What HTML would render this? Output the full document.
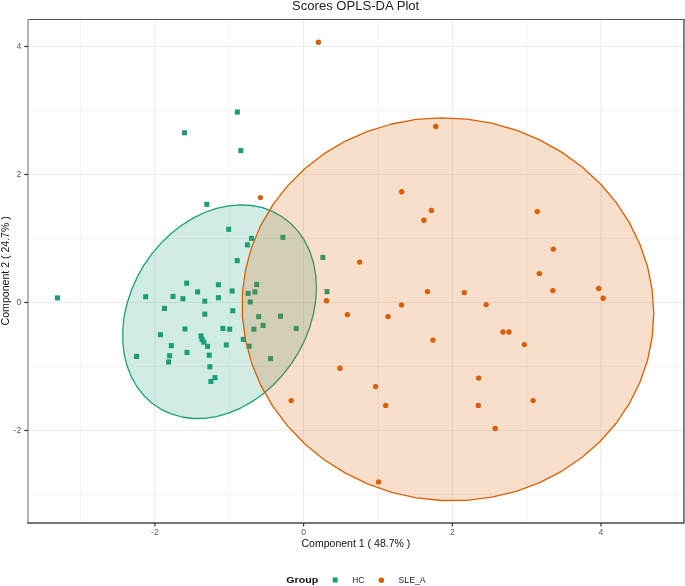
<!DOCTYPE html>
<html><head><meta charset="utf-8"><title>Scores OPLS-DA Plot</title>
<style>
html,body{margin:0;padding:0;background:#fff;}
body{width:685px;height:586px;overflow:hidden;}
svg{display:block;filter:blur(0.45px);}
text{font-family:"Liberation Sans",sans-serif;}
</style></head><body>
<svg width="685" height="586" viewBox="0 0 685 586">
<rect width="685" height="586" fill="#fff"/>
<defs><clipPath id="cp"><rect x="28.0" y="19.5" width="656.0" height="503.5"/></clipPath></defs>
<g clip-path="url(#cp)">
<line x1="80.6" x2="80.6" y1="19.5" y2="523.0" stroke="#ebebeb" stroke-width="0.55"/>
<line x1="154.9" x2="154.9" y1="19.5" y2="523.0" stroke="#ebebeb" stroke-width="1.05"/>
<line x1="229.3" x2="229.3" y1="19.5" y2="523.0" stroke="#ebebeb" stroke-width="0.55"/>
<line x1="303.6" x2="303.6" y1="19.5" y2="523.0" stroke="#ebebeb" stroke-width="1.05"/>
<line x1="378.0" x2="378.0" y1="19.5" y2="523.0" stroke="#ebebeb" stroke-width="0.55"/>
<line x1="452.3" x2="452.3" y1="19.5" y2="523.0" stroke="#ebebeb" stroke-width="1.05"/>
<line x1="526.7" x2="526.7" y1="19.5" y2="523.0" stroke="#ebebeb" stroke-width="0.55"/>
<line x1="601.0" x2="601.0" y1="19.5" y2="523.0" stroke="#ebebeb" stroke-width="1.05"/>
<line x1="675.4" x2="675.4" y1="19.5" y2="523.0" stroke="#ebebeb" stroke-width="0.55"/>
<line y1="494.5" y2="494.5" x1="28.0" x2="684.0" stroke="#ebebeb" stroke-width="0.55"/>
<line y1="430.5" y2="430.5" x1="28.0" x2="684.0" stroke="#ebebeb" stroke-width="1.05"/>
<line y1="366.5" y2="366.5" x1="28.0" x2="684.0" stroke="#ebebeb" stroke-width="0.55"/>
<line y1="302.5" y2="302.5" x1="28.0" x2="684.0" stroke="#ebebeb" stroke-width="1.05"/>
<line y1="238.5" y2="238.5" x1="28.0" x2="684.0" stroke="#ebebeb" stroke-width="0.55"/>
<line y1="174.5" y2="174.5" x1="28.0" x2="684.0" stroke="#ebebeb" stroke-width="1.05"/>
<line y1="110.5" y2="110.5" x1="28.0" x2="684.0" stroke="#ebebeb" stroke-width="0.55"/>
<line y1="46.5" y2="46.5" x1="28.0" x2="684.0" stroke="#ebebeb" stroke-width="1.05"/>
<rect x="55.0" y="295.4" width="5" height="5.1" fill="#1B9E77"/>
<rect x="182.0" y="130.2" width="5" height="5.1" fill="#1B9E77"/>
<rect x="234.9" y="109.5" width="5" height="5.1" fill="#1B9E77"/>
<rect x="238.3" y="148.1" width="5" height="5.1" fill="#1B9E77"/>
<rect x="204.3" y="201.8" width="5" height="5.1" fill="#1B9E77"/>
<rect x="226.2" y="226.7" width="5" height="5.1" fill="#1B9E77"/>
<rect x="249.0" y="235.8" width="5" height="5.1" fill="#1B9E77"/>
<rect x="244.9" y="242.3" width="5" height="5.1" fill="#1B9E77"/>
<rect x="280.4" y="234.8" width="5" height="5.1" fill="#1B9E77"/>
<rect x="234.7" y="258.1" width="5" height="5.1" fill="#1B9E77"/>
<rect x="320.4" y="254.9" width="5" height="5.1" fill="#1B9E77"/>
<rect x="184.2" y="280.6" width="5" height="5.1" fill="#1B9E77"/>
<rect x="215.9" y="282.2" width="5" height="5.1" fill="#1B9E77"/>
<rect x="254.2" y="281.9" width="5" height="5.1" fill="#1B9E77"/>
<rect x="195.1" y="289.4" width="5" height="5.1" fill="#1B9E77"/>
<rect x="229.6" y="288.4" width="5" height="5.1" fill="#1B9E77"/>
<rect x="245.6" y="290.9" width="5" height="5.1" fill="#1B9E77"/>
<rect x="252.4" y="289.4" width="5" height="5.1" fill="#1B9E77"/>
<rect x="324.5" y="289.1" width="5" height="5.1" fill="#1B9E77"/>
<rect x="143.2" y="294.2" width="5" height="5.1" fill="#1B9E77"/>
<rect x="170.5" y="293.9" width="5" height="5.1" fill="#1B9E77"/>
<rect x="180.4" y="296.2" width="5" height="5.1" fill="#1B9E77"/>
<rect x="215.9" y="295.2" width="5" height="5.1" fill="#1B9E77"/>
<rect x="202.3" y="298.6" width="5" height="5.1" fill="#1B9E77"/>
<rect x="247.7" y="299.4" width="5" height="5.1" fill="#1B9E77"/>
<rect x="162.0" y="305.9" width="5" height="5.1" fill="#1B9E77"/>
<rect x="202.3" y="311.6" width="5" height="5.1" fill="#1B9E77"/>
<rect x="230.3" y="308.2" width="5" height="5.1" fill="#1B9E77"/>
<rect x="256.2" y="314.1" width="5" height="5.1" fill="#1B9E77"/>
<rect x="278.0" y="313.6" width="5" height="5.1" fill="#1B9E77"/>
<rect x="182.5" y="326.4" width="5" height="5.1" fill="#1B9E77"/>
<rect x="220.4" y="325.9" width="5" height="5.1" fill="#1B9E77"/>
<rect x="227.2" y="326.6" width="5" height="5.1" fill="#1B9E77"/>
<rect x="251.4" y="326.6" width="5" height="5.1" fill="#1B9E77"/>
<rect x="260.6" y="322.9" width="5" height="5.1" fill="#1B9E77"/>
<rect x="293.7" y="325.9" width="5" height="5.1" fill="#1B9E77"/>
<rect x="157.9" y="332.1" width="5" height="5.1" fill="#1B9E77"/>
<rect x="198.5" y="333.4" width="5" height="5.1" fill="#1B9E77"/>
<rect x="199.5" y="336.9" width="5" height="5.1" fill="#1B9E77"/>
<rect x="201.3" y="339.6" width="5" height="5.1" fill="#1B9E77"/>
<rect x="240.8" y="336.9" width="5" height="5.1" fill="#1B9E77"/>
<rect x="168.8" y="343.1" width="5" height="5.1" fill="#1B9E77"/>
<rect x="205.0" y="343.8" width="5" height="5.1" fill="#1B9E77"/>
<rect x="223.8" y="342.4" width="5" height="5.1" fill="#1B9E77"/>
<rect x="246.6" y="343.8" width="5" height="5.1" fill="#1B9E77"/>
<rect x="184.5" y="349.9" width="5" height="5.1" fill="#1B9E77"/>
<rect x="206.7" y="352.6" width="5" height="5.1" fill="#1B9E77"/>
<rect x="134.0" y="353.9" width="5" height="5.1" fill="#1B9E77"/>
<rect x="167.1" y="353.2" width="5" height="5.1" fill="#1B9E77"/>
<rect x="166.1" y="359.4" width="5" height="5.1" fill="#1B9E77"/>
<rect x="268.1" y="356.1" width="5" height="5.1" fill="#1B9E77"/>
<rect x="207.4" y="364.2" width="5" height="5.1" fill="#1B9E77"/>
<rect x="212.5" y="375.1" width="5" height="5.1" fill="#1B9E77"/>
<rect x="208.4" y="378.9" width="5" height="5.1" fill="#1B9E77"/>
<circle cx="318.4" cy="42.2" r="2.7" fill="#D95F02"/>
<circle cx="260.4" cy="197.6" r="2.7" fill="#D95F02"/>
<circle cx="435.8" cy="126.5" r="2.7" fill="#D95F02"/>
<circle cx="401.7" cy="191.8" r="2.7" fill="#D95F02"/>
<circle cx="431.4" cy="210.4" r="2.7" fill="#D95F02"/>
<circle cx="423.9" cy="220.3" r="2.7" fill="#D95F02"/>
<circle cx="359.7" cy="262.1" r="2.7" fill="#D95F02"/>
<circle cx="427.5" cy="291.6" r="2.7" fill="#D95F02"/>
<circle cx="326.5" cy="300.8" r="2.7" fill="#D95F02"/>
<circle cx="537.3" cy="211.6" r="2.7" fill="#D95F02"/>
<circle cx="553.3" cy="249.1" r="2.7" fill="#D95F02"/>
<circle cx="539.3" cy="273.6" r="2.7" fill="#D95F02"/>
<circle cx="464.3" cy="292.6" r="2.7" fill="#D95F02"/>
<circle cx="552.8" cy="290.6" r="2.7" fill="#D95F02"/>
<circle cx="598.7" cy="288.4" r="2.7" fill="#D95F02"/>
<circle cx="603.2" cy="298.2" r="2.7" fill="#D95F02"/>
<circle cx="486.2" cy="304.6" r="2.7" fill="#D95F02"/>
<circle cx="503.0" cy="331.9" r="2.7" fill="#D95F02"/>
<circle cx="509.0" cy="331.9" r="2.7" fill="#D95F02"/>
<circle cx="524.4" cy="344.6" r="2.7" fill="#D95F02"/>
<circle cx="478.6" cy="378.1" r="2.7" fill="#D95F02"/>
<circle cx="478.3" cy="405.4" r="2.7" fill="#D95F02"/>
<circle cx="533.1" cy="400.6" r="2.7" fill="#D95F02"/>
<circle cx="495.2" cy="428.4" r="2.7" fill="#D95F02"/>
<circle cx="347.4" cy="314.6" r="2.7" fill="#D95F02"/>
<circle cx="388.0" cy="316.6" r="2.7" fill="#D95F02"/>
<circle cx="401.5" cy="304.9" r="2.7" fill="#D95F02"/>
<circle cx="433.0" cy="340.1" r="2.7" fill="#D95F02"/>
<circle cx="339.9" cy="368.2" r="2.7" fill="#D95F02"/>
<circle cx="375.6" cy="386.6" r="2.7" fill="#D95F02"/>
<circle cx="385.7" cy="405.4" r="2.7" fill="#D95F02"/>
<circle cx="291.2" cy="400.6" r="2.7" fill="#D95F02"/>
<circle cx="378.6" cy="481.9" r="2.7" fill="#D95F02"/>
<polygon points="316.4,287.7 315.7,275.0 313.5,263.0 309.9,251.6 304.9,241.2 298.6,231.9 291.1,223.8 282.5,217.0 273.0,211.6 262.7,207.7 251.7,205.5 240.2,204.8 228.4,205.8 216.5,208.3 204.6,212.5 193.0,218.1 181.7,225.2 171.0,233.5 161.1,243.1 152.0,253.7 144.0,265.1 137.1,277.3 131.5,290.0 127.2,303.0 124.2,316.2 122.8,329.3 122.8,342.1 124.2,354.5 127.2,366.2 131.5,377.1 137.1,387.0 144.0,395.7 152.0,403.2 161.1,409.3 171.1,413.9 181.7,417.0 193.0,418.5 204.6,418.3 216.5,416.6 228.4,413.2 240.2,408.3 251.7,401.9 262.7,394.2 273.0,385.2 282.5,375.2 291.1,364.1 298.6,352.3 304.9,339.8 309.9,326.9 313.5,313.8 315.7,300.6" fill="#1B9E77" fill-opacity="0.2" stroke="#1B9E77" stroke-width="1.3" stroke-linejoin="round"/>
<polygon points="653.8,313.6 652.2,290.1 647.6,266.8 639.9,244.2 629.3,222.6 616.0,202.2 600.1,183.5 581.9,166.7 561.6,152.1 539.7,139.9 516.3,130.2 491.9,123.2 466.9,119.1 441.6,117.8 416.3,119.4 391.6,124.0 367.6,131.3 344.9,141.3 323.8,153.9 304.6,168.8 287.5,185.9 272.8,204.8 260.8,225.3 251.7,247.1 245.5,269.9 242.4,293.2 242.4,316.7 245.5,340.2 251.7,363.2 260.8,385.4 272.8,406.4 287.5,425.9 304.6,443.7 323.8,459.5 345.0,472.9 367.6,483.9 391.6,492.3 416.3,497.8 441.6,500.5 466.9,500.3 491.9,497.2 516.3,491.3 539.7,482.6 561.6,471.3 581.9,457.5 600.1,441.5 616.0,423.5 629.3,403.7 639.9,382.5 647.6,360.2 652.2,337.1" fill="#D95F02" fill-opacity="0.2" stroke="#D95F02" stroke-width="1.3" stroke-linejoin="round"/>
</g>
<line x1="28.0" x2="685.0" y1="19.5" y2="19.5" stroke="#555" stroke-width="1.1"/>
<rect x="27" y="19.0" width="2" height="504.7" fill="#b2b2b2"/>
<rect x="683.1" y="19.5" width="0.9" height="504.1" fill="#6a6a6a"/><rect x="684" y="19.5" width="1.5" height="504.1" fill="#8c8c8c"/>
<line x1="27.4" x2="683.9" y1="523.05" y2="523.05" stroke="#484848" stroke-width="1.5"/>
<line x1="154.9" x2="154.9" y1="523.0" y2="526.5" stroke="#333" stroke-width="1.2"/>
<text x="154.9" y="535.1" font-size="8.6" fill="#5a5a5a" text-anchor="middle">-2</text>
<line y1="430.5" y2="430.5" x1="24.2" x2="28.0" stroke="#333" stroke-width="1.2"/>
<text x="21.2" y="433.1" font-size="8.6" fill="#5a5a5a" text-anchor="end">-2</text>
<line x1="303.6" x2="303.6" y1="523.0" y2="526.5" stroke="#333" stroke-width="1.2"/>
<text x="303.6" y="535.1" font-size="8.6" fill="#5a5a5a" text-anchor="middle">0</text>
<line y1="302.5" y2="302.5" x1="24.2" x2="28.0" stroke="#333" stroke-width="1.2"/>
<text x="21.2" y="305.1" font-size="8.6" fill="#5a5a5a" text-anchor="end">0</text>
<line x1="452.3" x2="452.3" y1="523.0" y2="526.5" stroke="#333" stroke-width="1.2"/>
<text x="452.3" y="535.1" font-size="8.6" fill="#5a5a5a" text-anchor="middle">2</text>
<line y1="174.5" y2="174.5" x1="24.2" x2="28.0" stroke="#333" stroke-width="1.2"/>
<text x="21.2" y="177.1" font-size="8.6" fill="#5a5a5a" text-anchor="end">2</text>
<line x1="601.0" x2="601.0" y1="523.0" y2="526.5" stroke="#333" stroke-width="1.2"/>
<text x="601.0" y="535.1" font-size="8.6" fill="#5a5a5a" text-anchor="middle">4</text>
<line y1="46.5" y2="46.5" x1="24.2" x2="28.0" stroke="#333" stroke-width="1.2"/>
<text x="21.2" y="49.1" font-size="8.6" fill="#5a5a5a" text-anchor="end">4</text>
<text x="355.6" y="9.55" font-size="12.6" fill="#222" text-anchor="middle" textLength="127.2" lengthAdjust="spacingAndGlyphs">Scores OPLS-DA Plot</text>
<text x="355.9" y="547.2" font-size="10.3" fill="#111" text-anchor="middle" textLength="108.8" lengthAdjust="spacingAndGlyphs">Component 1 ( 48.7% )</text>
<text transform="translate(9.1 270.8) rotate(-90)" font-size="10.3" fill="#111" text-anchor="middle" textLength="109.2" lengthAdjust="spacingAndGlyphs">Component 2 ( 24.7% )</text>
<text x="286.3" y="583" font-size="9.8" font-weight="bold" fill="#111" textLength="32.0" lengthAdjust="spacingAndGlyphs">Group</text>
<rect x="332.7" y="577.4" width="5" height="5.1" fill="#1B9E77"/>
<text x="352.2" y="583" font-size="8.3" fill="#222">HC</text>
<circle cx="381.4" cy="580.2" r="2.7" fill="#D95F02"/>
<text x="398.5" y="583" font-size="8.3" fill="#222" textLength="27.2" lengthAdjust="spacingAndGlyphs">SLE_A</text>
</svg></body></html>
